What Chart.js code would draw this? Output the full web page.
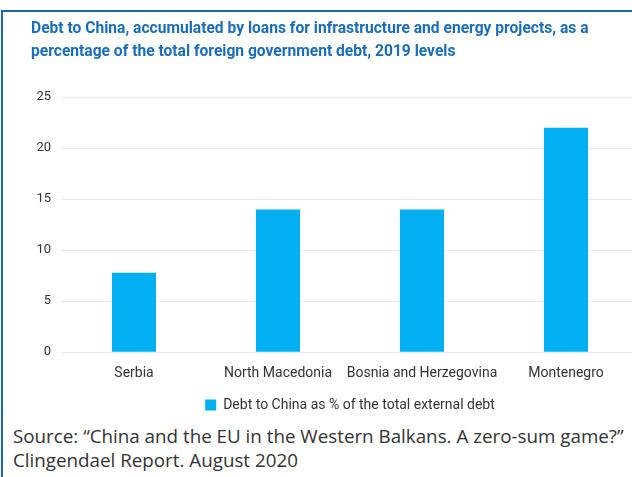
<!DOCTYPE html>
<html>
<head>
<meta charset="utf-8">
<script src="https://cdn.jsdelivr.net/npm/chart.js@4.4.1/dist/chart.umd.min.js"></script>
<style>
    html, body { margin: 0; padding: 0; width: 632px; height: 477px; overflow: hidden; background: #fff; }
    #frame { position: absolute; left: 1px; top: 10px; width: 640px; height: 480px;
             border-top: 2px solid #1b63b5; border-left: 2px solid #1b63b5; }
    #wrap { position: absolute; left: 0; top: 12px; width: 640px; height: 410px; }
    #source { position: absolute; left: 13px; top: 424px; font-family: 'Open Sans', sans-serif;
              font-size: 18.8px; line-height: 24px; color: #333; white-space: nowrap; }
</style>
</head>
<body>
<div id="frame"></div>
<div id="wrap"><canvas id="chart"></canvas></div>
<div id="source">Source: “China and the EU in the Western Balkans. A zero-sum game?”<br>Clingendael Report. August 2020</div>
<script>
// chart data
const countries = ['Serbia', 'North Macedonia', 'Bosnia and Herzegovina', 'Montenegro'];
const debtShare = [7.8, 14, 14, 22];
const seriesLabel = 'Debt to China as % of the total external debt';
const titleLines = [
    'Debt to China, accumulated by loans for infrastructure and energy projects, as a',
    'percentage of the total foreign government debt, 2019 levels'
];
const yMax = 25;
const yStep = 5;

document.addEventListener('DOMContentLoaded', function() {
    const ctx = document.getElementById('chart').getContext('2d');

    const chart = new Chart(ctx, {
        type: 'bar',
        data: {
            labels: countries,
            datasets: [
                {
                    label: seriesLabel,
                    data: debtShare,
                    backgroundColor: '#00b0f0',
                    borderWidth: 0,
                    barPercentage: 0.306,
                    categoryPercentage: 1
                }
            ]
        },
        options: {
            responsive: true,
            maintainAspectRatio: false,
            animation: false,
            layout: {
                padding: { left: 31, right: 2, top: 0, bottom: 0 }
            },
            scales: {
                x: {
                    grid: { display: false },
                    border: { display: false },
                    ticks: {
                        color: '#333',
                        padding: 5,
                        autoSkip: false,
                        maxRotation: 0,
                        font: { size: 14, family: 'Roboto' }
                    }
                },
                y: {
                    min: 0,
                    max: yMax,
                    grid: { color: '#e8e8e8', drawTicks: false },
                    border: { display: false },
                    ticks: {
                        stepSize: yStep,
                        color: '#333',
                        padding: 11,
                        font: { size: 13, family: 'Roboto' }
                    },
                    afterFit: function(scale) {
                        scale.width = 31;
                    }
                }
            },
            plugins: {
                title: {
                    display: true,
                    text: titleLines,
                    align: 'start',
                    color: '#1a6cbd',
                    font: { size: 15.6, weight: 'bold', family: 'Roboto', lineHeight: 1.45 },
                    padding: { top: 6, bottom: 34 }
                },
                legend: {
                    display: true,
                    position: 'bottom',
                    fullSize: false,
                    labels: {
                        color: '#333',
                        boxWidth: 11,
                        boxHeight: 11,
                        padding: 11,
                        font: { size: 14, family: 'Roboto' }
                    }
                },
                tooltip: { enabled: false }
            }
        }
    });
});
</script>
</body>
</html>
